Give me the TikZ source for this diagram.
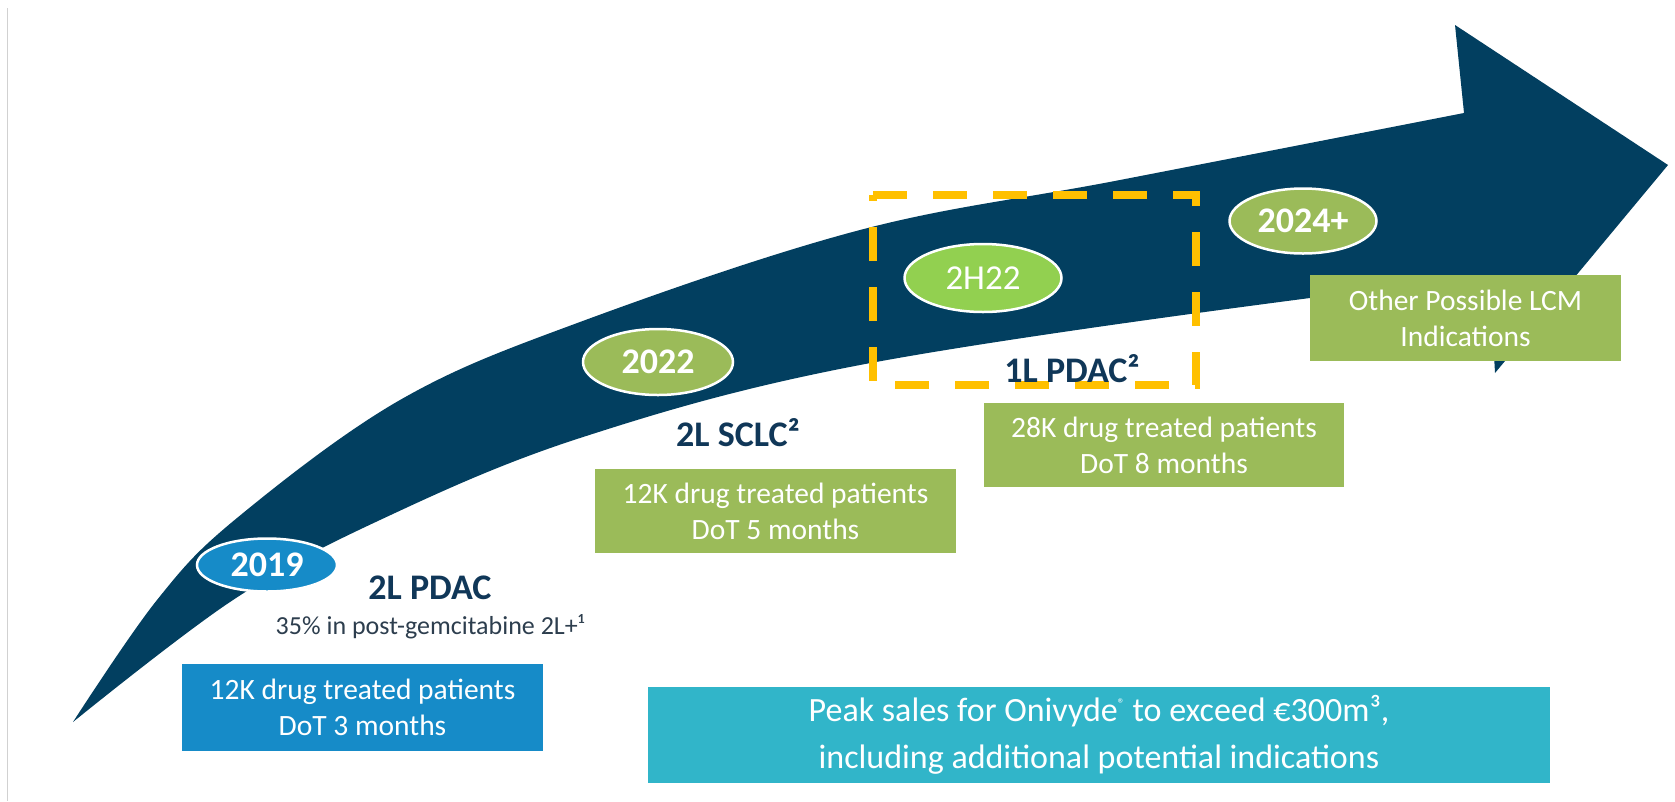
\documentclass[tikz,border=0pt]{standalone}
\usepackage{fontspec}
\setmainfont{Carlito}
\usetikzlibrary{shapes.geometric}

\definecolor{arrowblue}{RGB}{2,63,96}
\definecolor{skyblue}{RGB}{22,139,200}
\definecolor{olivegreen}{RGB}{155,187,89}
\definecolor{limegreen}{RGB}{146,208,80}
\definecolor{tealbox}{RGB}{49,181,201}
\definecolor{amber}{RGB}{255,192,0}
\definecolor{labelblue}{RGB}{16,55,88}
\definecolor{notegray}{RGB}{45,62,78}

\tikzset{
  milestone/.style={ellipse, draw=white, line width=2.5pt, text=white,
    font=\fontsize{36}{40}\selectfont\bfseries, inner sep=0pt},
  infobox/.style={rectangle, text=white, align=center, inner sep=0pt,
    font=\fontsize{29.5}{36}\selectfont},
  indication/.style={text=labelblue, font=\fontsize{36}{40}\selectfont\bfseries, inner sep=0pt},
  highlight/.style={draw=amber, line width=8pt, dash pattern=on 34pt off 26pt}
}

\begin{document}
\begin{tikzpicture}[x=1pt,y=-1pt]
\useasboundingbox (0,0) rectangle (1675,801);
\fill[white] (0,0) rectangle (1675,801);

% thin page edge on the left
\draw[black!18, line width=1.2pt] (7.5,8) -- (7.5,801);

% curved growth arrow
\fill[arrowblue]
  plot[smooth, tension=0.6] coordinates {(73,722) (157,600) (237,518) (400,400) (580,322) (860,230) (1120,180) (1464,113)}
  -- (1455,25) -- (1668,165) -- (1495,373) -- (1490,283)
  -- plot[smooth, tension=0.6] coordinates {(1490,283) (1310,298) (860,365) (580,438) (380,520) (233,600) (73,722)}
  -- cycle;

% highlighted 2H22 frame
\draw[highlight] (873,195) -- (1196,195) -- (1196,385) -- (873,385) -- cycle;

% milestones
\node[milestone, fill=skyblue, minimum width=140pt, minimum height=53pt] (m2019) at (267,565) {2019};
\node[milestone, fill=olivegreen, minimum width=150pt, minimum height=66pt] (m2022) at (658,362) {2022};
\node[milestone, fill=limegreen, minimum width=157pt, minimum height=68pt, font=\fontsize{35}{40}\selectfont] (m2h22) at (983,278) {2H22};
\node[milestone, fill=olivegreen, minimum width=147pt, minimum height=65pt] (m2024) at (1303,221) {2024+};

% indication labels
\node[indication] (l1) at (430,588) {2L PDAC};
\node[text=notegray, font=\fontsize{26}{30}\selectfont, inner sep=0pt] (l1note) at (430,627) {35\% in post-gemcitabine 2L+¹};
\node[indication] (l2) at (738,433) {2L SCLC²};
\node[indication] (l3) at (1072,369) {1L PDAC²};

% patient boxes
\node[infobox, fill=skyblue, minimum width=361pt, minimum height=87pt] (b1) at (362.5,707.5) {12K drug treated patients\\DoT 3 months};
\node[infobox, fill=olivegreen, minimum width=361pt, minimum height=84pt] (b2) at (775.5,511) {12K drug treated patients\\DoT 5 months};
\node[infobox, fill=olivegreen, minimum width=360pt, minimum height=84pt] (b3) at (1164,445) {28K drug treated patients\\DoT 8 months};
\node[infobox, fill=olivegreen, minimum width=311pt, minimum height=86pt] (b4) at (1465.5,318) {Other Possible LCM\\Indications};

% peak sales banner
\node[infobox, fill=tealbox, minimum width=902pt, minimum height=96pt, font=\fontsize{34}{47}\selectfont] (peak) at (1099,735)
  {Peak sales for Onivyde\raisebox{0.8ex}{\fontsize{14}{14}\selectfont ®} to exceed €300m³,\\including additional potential indications};
\end{tikzpicture}
\end{document}
